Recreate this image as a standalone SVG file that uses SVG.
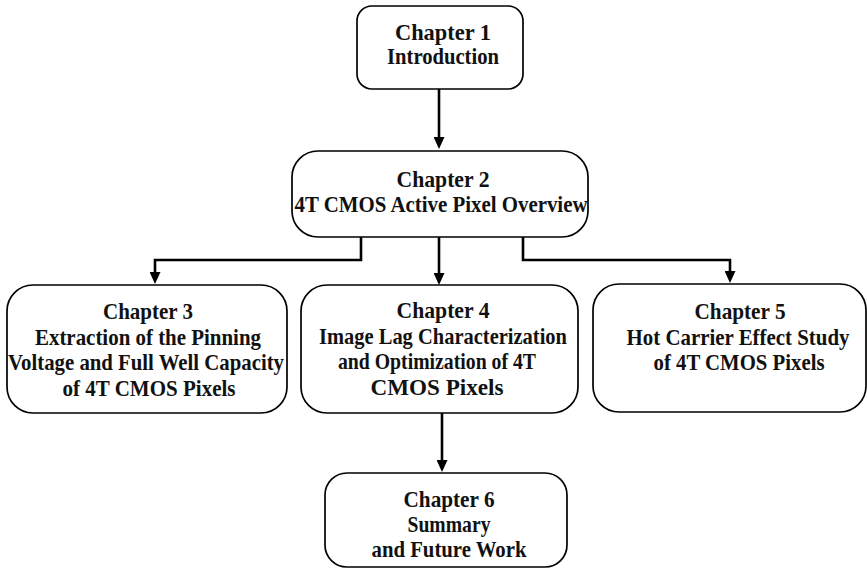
<svg xmlns="http://www.w3.org/2000/svg" width="867" height="569" viewBox="0 0 867 569">
<defs>
<marker id="ah" markerWidth="12" markerHeight="11" refX="4" refY="5.5" orient="auto" markerUnits="userSpaceOnUse" viewBox="0 0 12 11">
<path d="M0,0 L12,5.5 L0,11 Z" fill="#000"/>
</marker>
</defs>
<style>
.box{fill:#fff;stroke:#000;stroke-width:1.7}
.t{font-family:"Liberation Serif","Times New Roman",serif;font-weight:bold;font-size:23.5px;fill:#111;text-anchor:middle}
.c{fill:none;stroke:#000;stroke-width:2.6;marker-end:url(#ah)}
</style>
<rect width="867" height="569" fill="#fff"/>
<g id="connectors">
<path class="c" d="M439,89 V141"/>
<path class="c" d="M361,237 V260 H155 V276"/>
<path class="c" d="M439,237 V277"/>
<path class="c" d="M523,237 V260 H730 V275"/>
<path class="c" d="M442,413 V464"/>
</g>
<g id="ch1">
<rect class="box" x="357" y="6" width="166" height="83" rx="15"/>
<text class="t" x="443" y="40" textLength="96" lengthAdjust="spacingAndGlyphs">Chapter 1</text>
<text class="t" x="443" y="64" textLength="112" lengthAdjust="spacingAndGlyphs">Introduction</text>
</g>
<g id="ch2">
<rect class="box" x="292" y="151" width="296" height="86" rx="26"/>
<text class="t" x="443" y="187" textLength="93" lengthAdjust="spacingAndGlyphs">Chapter 2</text>
<text class="t" x="441" y="212" textLength="293" lengthAdjust="spacingAndGlyphs">4T CMOS Active Pixel Overview</text>
</g>
<g id="ch3">
<rect class="box" x="7" y="285" width="280" height="128" rx="26"/>
<text class="t" x="148" y="319" textLength="90" lengthAdjust="spacingAndGlyphs">Chapter 3</text>
<text class="t" x="148" y="345" textLength="226" lengthAdjust="spacingAndGlyphs">Extraction of the Pinning</text>
<text class="t" x="146" y="370" textLength="276" lengthAdjust="spacingAndGlyphs">Voltage and Full Well Capacity</text>
<text class="t" x="149" y="396" textLength="173" lengthAdjust="spacingAndGlyphs">of 4T CMOS Pixels</text>
</g>
<g id="ch4">
<rect class="box" x="301" y="285" width="277" height="128" rx="26"/>
<text class="t" x="443" y="318" textLength="93" lengthAdjust="spacingAndGlyphs">Chapter 4</text>
<text class="t" x="443" y="344" textLength="248" lengthAdjust="spacingAndGlyphs">Image Lag Characterization</text>
<text class="t" x="437" y="369" textLength="198" lengthAdjust="spacingAndGlyphs">and Optimization of 4T</text>
<text class="t" x="437" y="395" textLength="133" lengthAdjust="spacingAndGlyphs">CMOS Pixels</text>
</g>
<g id="ch5">
<rect class="box" x="593" y="284" width="273" height="128" rx="26"/>
<text class="t" x="740" y="319" textLength="91" lengthAdjust="spacingAndGlyphs">Chapter 5</text>
<text class="t" x="738" y="345" textLength="223" lengthAdjust="spacingAndGlyphs">Hot Carrier Effect Study</text>
<text class="t" x="739" y="370" textLength="171" lengthAdjust="spacingAndGlyphs">of 4T CMOS Pixels</text>
</g>
<g id="ch6">
<rect class="box" x="325" y="473" width="242" height="94" rx="22"/>
<text class="t" x="449" y="507" textLength="91" lengthAdjust="spacingAndGlyphs">Chapter 6</text>
<text class="t" x="449" y="532" textLength="83" lengthAdjust="spacingAndGlyphs">Summary</text>
<text class="t" x="449" y="557" textLength="155" lengthAdjust="spacingAndGlyphs">and Future Work</text>
</g>
</svg>
